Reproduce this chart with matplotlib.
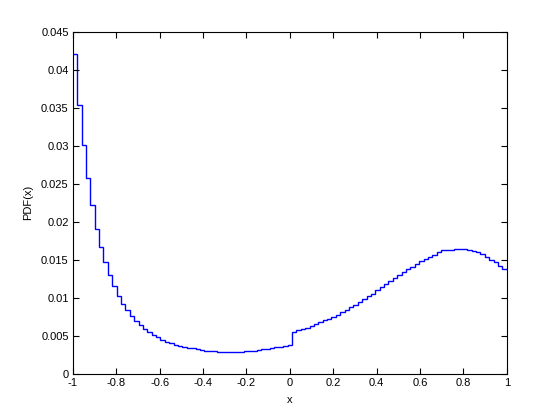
import numpy as np
import matplotlib
matplotlib.use("Agg")
import matplotlib.pyplot as plt
from matplotlib.ticker import FuncFormatter

# bin edges (100 points from -1 to 1 -> 99 steps)
edges = np.linspace(-1, 1, 100)
pdf_values = [
    0.0420, 0.0354, 0.0301, 0.0258, 0.0222, 0.0191, 0.0167, 0.0147, 0.0130, 0.0115,
    0.0102, 0.0092, 0.0084, 0.0076, 0.0069, 0.0064, 0.0059, 0.0055, 0.0051, 0.0048,
    0.0044, 0.0042, 0.0040, 0.0038, 0.0036, 0.0035, 0.00337, 0.00333, 0.00322, 0.00310,
    0.00306, 0.00302, 0.00295, 0.00293, 0.00291, 0.00290, 0.00290, 0.00291, 0.00292, 0.00294,
    0.00303, 0.00306, 0.00309, 0.00322, 0.00328, 0.00343, 0.00352, 0.00358, 0.00367, 0.00376,
    0.00546, 0.00572, 0.00585, 0.00606, 0.00625, 0.00651, 0.00677, 0.00704, 0.00725, 0.00751,
    0.00778, 0.00809, 0.00843, 0.00875, 0.00909, 0.00949, 0.00985, 0.0102, 0.01055, 0.0110,
    0.01139, 0.01178, 0.01218, 0.01257, 0.01297, 0.01336, 0.01376, 0.0141, 0.01446, 0.01481,
    0.01508, 0.01534, 0.01565, 0.01597, 0.01621, 0.01630, 0.01634, 0.01640, 0.01642, 0.01640,
    0.01630, 0.01617, 0.01600, 0.01573, 0.01538, 0.01502, 0.01468, 0.01423, 0.01380,
]
x_ticks = [-1, -0.8, -0.6, -0.4, -0.2, 0, 0.2, 0.4, 0.6, 0.8, 1]
y_ticks = [0, 0.005, 0.01, 0.015, 0.02, 0.025, 0.03, 0.035, 0.04, 0.045]

plt.rcParams['font.family'] = ['Liberation Sans', 'DejaVu Sans']

fig = plt.figure(figsize=(5.6, 4.2), dpi=100)
ax = fig.add_axes([0.13, 0.11, 0.775, 0.815])
ax.stairs(pdf_values, edges, baseline=None, color=(0, 0, 1), linewidth=1.0)

ax.set_xlim(-1, 1)
ax.set_ylim(0, 0.045)
ax.set_xticks(x_ticks)
ax.set_yticks(y_ticks)
fmt = FuncFormatter(lambda v, p: '%g' % round(v, 6))
ax.xaxis.set_major_formatter(fmt)
ax.yaxis.set_major_formatter(fmt)
ax.tick_params(direction='in', top=True, right=True, length=4, width=0.8,
               labelsize=8, pad=3)
for s in ax.spines.values():
    s.set_linewidth(0.8)
ax.set_xlabel('x', fontsize=8, labelpad=5)
ax.set_ylabel('PDF(x)', fontsize=8, labelpad=6)

fig.savefig('out.png', dpi=100)
